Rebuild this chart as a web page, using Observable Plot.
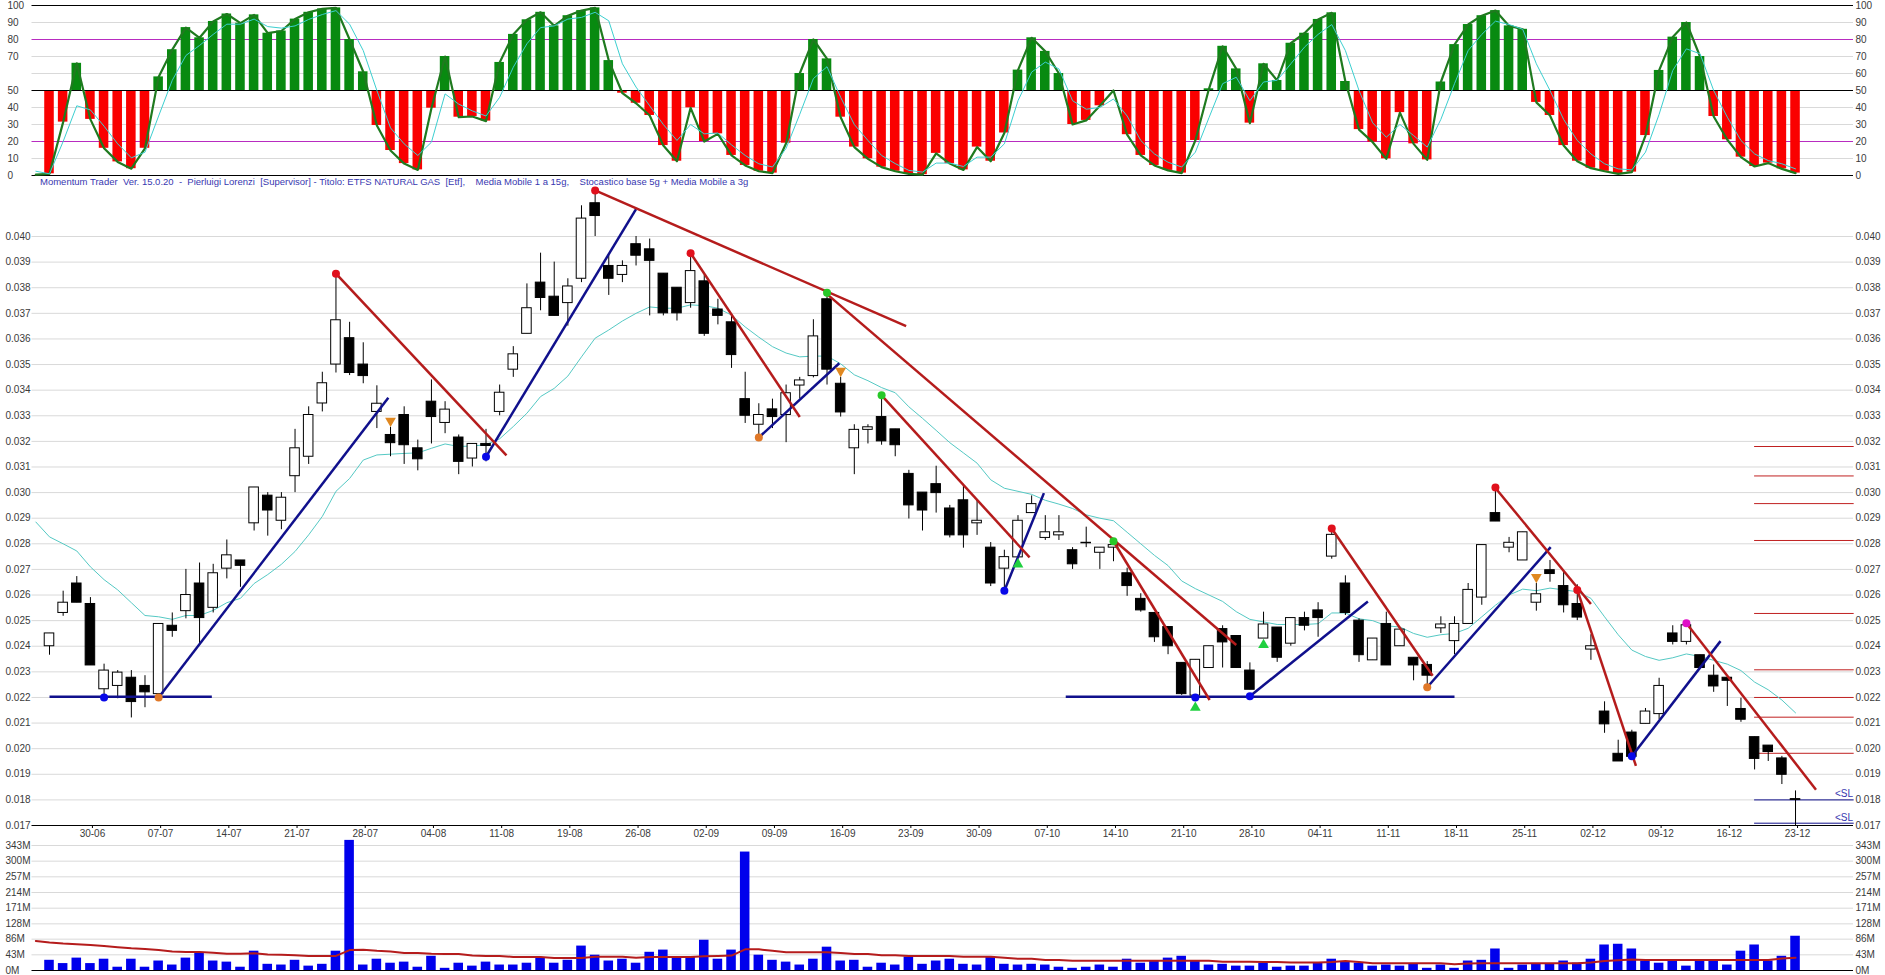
<!DOCTYPE html>
<html>
<head>
<meta charset="utf-8">
<title>ETFS NATURAL GAS</title>
<script src="https://cdn.jsdelivr.net/npm/d3@7"></script>
<script src="https://cdn.jsdelivr.net/npm/@observablehq/plot@0.6"></script>
<style>
html,body{margin:0;padding:0;background:#fff;overflow:hidden}
#chart{position:relative;width:1885px;height:975px;font-family:"Liberation Sans",Arial,sans-serif}
#chart svg{position:absolute;left:0;background:transparent}
#caption{position:absolute;left:40px;top:176px;color:#3838b0;font-size:9.5px;line-height:12px;white-space:pre}
</style>
</head>
<body>
<div id="chart"></div>
<script>
// Dates on the time axis (one label each five sessions, starting at session 3)
const dateLabels = ["30-06","07-07","14-07","21-07","28-07","04-08","11-08","19-08","26-08","02-09","09-09","16-09","23-09","30-09","07-10","14-10","21-10","28-10","04-11","11-11","18-11","25-11","02-12","09-12","16-12","23-12"];

// Stochastic oscillator bars, one per session
const stoch = [
1,31.4,66,33,16,8,4,16,58,74,
87,81,90.6,95,89.6,94.5,83.7,85,92,96,
98,98.6,80,61,29.4,14.7,7,3.3,39.6,70,
34.3,34.7,32,66.5,83,91.6,96,88,94,97,
98.6,67.6,48.4,42.5,35.3,17.6,8.4,39.8,20,24.5,
11.8,5.9,2.5,1.4,19,60,80,68.6,34.3,16.7,
9.8,4.9,2.5,1,0.5,13,7,3.3,16.7,8.4,
25,62,81,73,60,30,32.4,41,50,24,
11.8,5.9,3,1.4,20.6,51,76,62.7,30.8,65.7,
55.9,77.8,83.7,91.8,95.7,55.3,27,19.6,9.8,37,
18.6,9.2,55,77,88.8,94,97,88,86,43,
35.3,17.6,8.4,4.3,2.5,1,2,23.5,61.8,81.4,
90,70,34.7,21,10.8,5.3,7.3,3.9,1.4];
const stochLead = 0.5;
// Signal line of the oscillator, from session -1
const stochSignal = [2.5,
1,20,41,38.6,29,18.6,10.4,13.7,35,56,
70.6,76.5,83,89,89,92,87.6,86.7,88,91.8,
94.7,97,89,73.5,50,28,18.6,11.8,19.6,48,
42,38,35,46,63.7,77.5,87,88,92,93,
96,91,65.7,52,41,30,20.6,30,24.5,25,
18,11.8,6.9,5,16,36,57,64,46,30,
20.6,11.8,7,3,2,7.3,7.3,5.3,10.8,10.8,
18.6,44,60.8,66.7,62.7,44,39,40,45,35,
20.6,12.7,7.8,5,13.7,34,54,57.8,44,55,
56,65.7,75.5,83,88.8,73.5,50,31,22.5,30,
23.5,16.7,33,54,73.5,83,90.8,88.8,86,65.7,
50,33,20.6,12.7,6.9,3.9,3.3,13.7,36,61.8,
74.5,71.6,50,34.3,20.6,12.7,8.8,6.9,3.9];

// Candles, in thousandths
const lows = [
23.65,25.17,25.7,23.25,22.0,21.95,21.2,21.6,22.1,24.35,
25.07,24.1,25.3,26.63,26.3,28.5,28.3,28.55,30.0,31.1,
33.15,34.67,34.57,34.25,32.5,31.4,31.1,30.85,31.9,32.3,
30.7,31.0,31.2,33.0,34.5,36.2,37.1,36.9,36.5,38.2,
40.0,37.7,38.2,38.85,36.9,36.9,36.7,37.2,36.1,36.55,
34.85,32.7,32.15,32.5,31.95,33.65,34.48,34.2,32.95,30.7,
31.9,31.85,31.4,28.97,28.5,29.2,28.23,27.83,28.33,26.33,
26.18,27.47,29.2,28.13,28.13,27.0,27.85,27.0,27.3,25.95,
25.33,24.15,23.67,22.08,21.85,23.15,23.15,23.15,22.3,24.3,
23.37,24.0,24.6,24.35,27.4,25.2,23.37,23.45,23.25,24.0,
22.65,22.4,24.5,23.67,24.87,25.6,28.87,27.65,27.35,25.37,
26.5,25.3,25.0,23.45,20.6,19.5,19.68,20.97,21.13,24.05,
24.05,23.15,22.2,21.65,21.03,19.17,19.5,18.6,17.0];
const bodyLows = [
24.0,25.3,25.7,23.25,22.32,22.45,21.82,22.2,22.13,24.6,
25.37,25.1,25.5,27.03,27.14,28.8,29.3,28.9,30.64,31.4,
33.48,35.0,34.67,34.55,33.15,31.93,31.85,31.3,32.95,32.72,
31.2,31.33,31.82,33.15,34.8,36.2,37.6,36.9,37.4,38.35,
40.8,38.35,38.5,39.25,39.05,37.0,37.0,37.4,36.2,36.9,
35.37,33.0,32.65,32.95,33.03,34.18,34.55,34.8,33.13,31.73,
32.45,32.0,31.85,29.5,29.3,29.98,28.33,28.33,28.8,26.45,
27.03,27.47,29.2,28.23,28.33,27.2,28.02,27.65,27.85,26.35,
25.4,24.35,24.0,22.13,22.07,23.15,24.15,23.15,22.3,24.3,
23.55,24.1,24.8,25.1,27.5,25.3,23.65,23.45,23.25,24.0,
23.25,22.85,24.7,24.2,24.87,25.9,28.87,27.85,27.35,25.7,
26.82,25.6,25.12,23.87,20.95,19.5,19.68,20.97,21.35,24.17,
24.17,23.15,22.43,22.65,21.13,19.6,19.87,18.98,18.0];
const bodyHighs = [
24.5,25.7,26.45,25.65,23.05,22.97,22.77,22.45,24.87,24.8,
26.0,26.45,26.85,27.55,27.35,30.2,29.88,29.8,31.73,33.03,
34.27,36.73,36.03,35.0,33.47,32.25,33.03,31.73,33.55,33.24,
32.15,31.9,31.9,33.9,35.4,37.2,38.2,37.65,38.05,40.7,
41.3,38.85,38.85,39.7,39.5,38.55,38.0,38.65,38.25,37.15,
36.65,33.65,33.03,33.25,33.88,34.38,36.1,37.55,34.25,32.45,
32.55,32.95,32.47,30.73,30.0,30.33,29.38,29.7,28.9,27.85,
27.48,28.9,29.55,28.45,28.45,27.75,28.04,27.85,27.95,26.85,
25.85,25.3,24.75,23.35,23.47,24.0,24.67,24.4,23.05,24.85,
24.73,25.1,25.1,25.4,28.35,26.45,25.0,24.3,24.87,24.65,
23.55,23.27,24.85,24.87,26.2,27.95,29.2,28.04,28.45,26.03,
26.97,26.35,25.65,24.0,21.45,19.8,20.63,21.45,22.45,24.5,
24.82,23.65,22.85,22.77,21.55,20.45,20.12,19.62,18.03];
const highs = [
24.5,26.15,26.72,25.9,23.3,23.05,23.05,22.85,24.87,25.3,
27.0,27.25,27.2,28.15,27.35,30.2,30.0,30.0,32.47,33.35,
34.7,38.55,36.65,35.85,34.17,32.55,33.35,32.05,34.4,33.55,
32.25,31.9,32.47,34.2,35.7,38.15,39.35,39.0,38.35,41.2,
41.8,39.25,39.05,40.0,39.9,38.55,38.0,39.35,38.5,37.55,
36.9,34.7,33.47,33.65,34.2,34.5,36.75,37.8,34.5,32.65,
32.65,33.8,32.47,30.87,30.0,31.03,29.5,30.25,29.7,28.05,
27.75,29.1,29.87,29.1,29.1,27.85,28.65,27.85,28.2,27.05,
26.05,25.3,24.75,23.35,23.47,24.0,24.8,24.4,23.35,25.33,
24.73,25.1,25.33,25.7,28.6,26.75,25.07,24.3,25.33,24.65,
23.55,23.4,25.15,25.15,26.45,27.95,30.2,28.25,28.45,26.45,
27.35,26.9,26.4,24.45,21.83,20.33,20.72,21.57,22.75,24.8,
24.95,23.65,23.27,22.77,21.97,20.45,20.12,19.7,18.35];
const blackCandles = [2,3,6,7,9,11,14,16,22,23,25,26,27,28,30,32,36,37,40,41,43,44,45,46,48,49,50,51,53,57,58,61,62,63,64,65,66,67,69,75,79,80,81,82,83,86,87,88,90,92,93,95,96,98,100,101,106,110,111,112,114,115,116,119,121,122,123,124,125,126,127,128];

// 15-session moving average, from session -1
const movingAvg = [28.85,
28.27,28.0,27.72,27.1,26.6,26.2,25.7,25.2,25.15,25.05,
25.2,25.2,25.4,25.7,25.87,26.45,26.8,27.2,27.7,28.35,
29.07,30.05,30.55,31.27,31.47,31.5,31.53,31.55,31.73,31.9,
31.8,31.82,31.87,32.1,32.58,33.1,33.75,34.07,34.55,35.3,
36.03,36.35,36.7,37.0,37.25,37.2,37.2,37.33,37.3,37.2,
36.93,36.47,36.07,35.7,35.45,35.3,35.33,35.33,35.03,34.6,
34.37,34.1,33.9,33.35,32.9,32.43,31.95,31.55,31.15,30.5,
30.17,30.05,29.93,29.7,29.55,29.38,29.13,29,28.9,28.45,
28,27.55,27.15,26.55,26.25,26,25.75,25.35,25.05,24.95,
24.85,24.85,24.85,24.88,25.3,25.3,25.07,25,24.8,24.75,
24.5,24.35,24.45,24.5,24.7,25.15,25.6,26,26.23,26.17,
26.27,26.2,26.13,25.87,25.15,24.45,23.85,23.6,23.45,23.55,
23.7,23.6,23.45,23.3,23.05,22.6,22.3,21.9,21.4];

// Trend lines: [session, price, session, price]
const redTrends = [[21,38.55,33.5,31.45],[40,41.8,62.8,36.5],[47,39.35,55,32.95],[57,37.75,87,24.05],[61,33.8,71.85,27.47],[78,28.1,85.05,21.9],[94,28.6,101.4,22.85],[106,30.18,113,25.65],[112,26.2,116.3,19.33],[120,24.9,129.5,18.4]];
const blueTrends = [[0,22.03,11.9,22.03],[8,22.0,24.84,33.7],[32,31.4,43,41.07],[52,32.15,57.9,35.05],[70,26.17,72.9,29.98],[74.5,22.03,103,22.03],[88,22.05,96.65,25.75],[101,22.4,110.05,27.87],[116,19.7,122.5,24.2]];

// Pivots: [session, price]
const redPivots = [[21,38.55],[40,41.8],[47,39.35],[94,28.6],[106,30.2],[112,26.2]];
const greenPivots = [[57,37.8],[61,33.8],[78,28.1]];
const bluePivots = [[4,22.0],[32,31.4],[70,26.17],[84,22.0],[88,22.05],[116,19.7]];
const orangePivots = [[8,22.0],[52,32.15],[101,22.4]];
const magentaPivots = [[120,24.9]];
const sellSignals = [[25,32.8],[58,34.75],[109,26.7]];
const buySignals = [[71,27.2],[84,21.6],[89,24.05]];

// Target and stop levels on the right
const targetLevels = [31.8,30.65,29.57,28.13,25.28,23.08,22.0,21.23,19.82];
const stopLevels = [18.0,17.09];
const stopLabels = [[131.55,18.22,"<SL"],[131.55,17.31,"<SL"]];

// Volume in millions, one per session
const volume = [
28,19,34,19,31,9,31,9,26,15,
34,49,26,23,9,53,17,15,28,12,
17,53,357,15,31,20,23,9,39,6,
20,12,23,15,15,20,34,20,28,67,
42,26,31,20,50,56,34,37,83,31,
56,325,42,28,23,15,31,64,26,28,
9,20,15,37,17,26,31,17,15,37,
17,15,17,15,9,6,9,15,9,31,
20,26,34,39,26,15,17,12,12,20,
9,12,12,20,31,23,20,12,15,12,
17,6,15,6,26,28,59,6,15,17,
17,26,20,31,70,72,59,26,20,28,
12,28,28,15,53,70,26,39,94];
// Volume moving average, from session -1
const volumeAvg = [81,
77,74,72,70,67,64,61,59,56,52,
51,51,49,46,46,47,44,43,42,40,
40,40,56,57,54,52,48,48,46,45,
45,41,40,40,37,37,37,34,34,34,
38,38,38,35,37,37,37,37,39,40,
41,58,58,54,50,50,50,50,48,45,
45,42,42,40,40,40,40,38,38,38,
35,32,32,29,29,27,27,27,27,27,
27,27,27,27,27,27,24,24,24,23,
23,22,22,22,23,26,23,20,20,20,
20,20,20,17,19,20,20,20,20,20,
20,20,20,22,26,28,30,29,29,29,
29,29,29,29,29,29,29,33,35];

const stochTicks = d3.range(0,101,10);
const priceTicks = d3.range(17,41).map(d => d/1000);
const volumeTicks = [0,43,86,128,171,214,257,300,343];
const dateTicks = dateLabels.map((_,k) => 3 + 5*k);

const GRID = "#d9d9d9", TEXT = "#3a3a3a", RED = "#b51c1c", NAVY = "#10108c";
const xScale = {domain:[-1.283,132.25], range:[31.5,1853], axis:null};
const half = 0.35;
const base = {width:1885, marginLeft:31.5, marginRight:32, style:{background:"transparent", fontFamily:'"Liberation Sans",Arial,sans-serif', fontSize:"10px"}};
const idx = d3.range(stoch.length);
const chart = document.getElementById("chart");
function place(svg, top){ svg.style.top = top+"px"; chart.appendChild(svg); }

// Oscillator panel
const stochPlot = Plot.plot({...base, height:180, marginTop:5, marginBottom:5,
  x:xScale, y:{domain:[0,100], range:[175,5], axis:null},
  marks:[
    Plot.ruleY(stochTicks.filter(d => ![0,20,50,80,100].includes(d)), {stroke:GRID}),
    Plot.ruleY([20,80], {stroke:"#b82cc0"}),
    Plot.rect(idx.filter(i => stoch[i] >= 50), {x1:i=>i-half, x2:i=>i+half, y1:50, y2:i=>stoch[i], fill:"#088a10"}),
    Plot.rect(idx.filter(i => stoch[i] < 50), {x1:i=>i-half, x2:i=>i+half, y1:50, y2:i=>stoch[i], fill:"#fa0000"}),
    Plot.ruleY([0,50,100], {stroke:"#000", strokeWidth:1}),
    Plot.line([stochLead,...stoch], {x:(d,i)=>i-1, y:d=>d, stroke:"#1f7a1f", strokeWidth:2.2}),
    Plot.line(stochSignal, {x:(d,i)=>i-1, y:d=>d, stroke:"#3ccfd0", strokeWidth:1}),
    Plot.axisY(stochTicks.filter(d => d !== 60), {anchor:"left", tickSize:0, tickPadding:2, textAnchor:"start", dx:-22.5, label:null, fill:TEXT}),
    Plot.axisY(stochTicks, {anchor:"right", tickSize:0, tickPadding:2, label:null, fill:TEXT})
  ]});
place(stochPlot, 0);

// Price panel
const P = 1000;
const whiteIdx = idx.filter(i => !blackCandles.includes(i));
const body = {x1:i=>i-half, x2:i=>i+half, y1:i=>bodyLows[i]/P, y2:i=>bodyHighs[i]/P, stroke:"#000", strokeWidth:1};
const trend = (rows, color) => Plot.link(rows, {x1:d=>d[0], y1:d=>d[1]/P, x2:d=>d[2], y2:d=>d[3]/P, stroke:color, strokeWidth:2.5});
const pivot = (rows, color) => Plot.dot(rows, {x:d=>d[0], y:d=>d[1]/P, r:4, fill:color});
const pricePlot = Plot.plot({...base, height:674, marginTop:8.8, marginBottom:25,
  x:xScale, y:{domain:[0.017,0.042], axis:null},
  marks:[
    Plot.ruleY(priceTicks.slice(1), {stroke:GRID}),
    Plot.ruleY(targetLevels, {y:d=>d/P, x1:125, x2:132.3, stroke:"#c02020"}),
    Plot.ruleY(stopLevels, {y:d=>d/P, x1:125, x2:132.3, stroke:NAVY}),
    Plot.line(movingAvg, {x:(d,i)=>i-1, y:d=>d/P, stroke:"#55c9c4", strokeWidth:1}),
    Plot.ruleX(idx, {x:i=>i, y1:i=>lows[i]/P, y2:i=>highs[i]/P, stroke:"#000", strokeWidth:1}),
    Plot.rect(whiteIdx, {...body, fill:"#fff"}),
    Plot.rect(blackCandles, {...body, fill:"#000"}),
    trend(blueTrends, NAVY),
    trend(redTrends, RED),
    pivot(redPivots, "#e0101c"),
    pivot(greenPivots, "#28c828"),
    pivot(bluePivots, "#0808e8"),
    pivot(orangePivots, "#e07828"),
    pivot(magentaPivots, "#e010c8"),
    Plot.dot(sellSignals, {x:d=>d[0], y:d=>d[1]/P, r:4, symbol:"triangle", rotate:180, fill:"#e08820"}),
    Plot.dot(buySignals, {x:d=>d[0], y:d=>d[1]/P, r:4, symbol:"triangle", fill:"#20d040"}),
    Plot.text(stopLabels, {x:d=>d[0], y:d=>d[1]/P, text:d=>d[2], fill:"#3838b0", fontSize:10}),
    Plot.ruleY([0.017], {stroke:"#000"}),
    Plot.axisX(dateTicks, {anchor:"bottom", tickSize:3, tickPadding:1, dx:2, label:null, stroke:"#000", fill:TEXT, tickFormat:(d,i)=>dateLabels[i]}),
    Plot.axisY(priceTicks, {anchor:"left", tickSize:0, tickPadding:2, textAnchor:"start", dx:-24.5, label:null, fill:TEXT, tickFormat:d=>d.toFixed(3)}),
    Plot.axisY(priceTicks, {anchor:"right", tickSize:0, tickPadding:2, label:null, fill:TEXT, tickFormat:d=>d.toFixed(3)})
  ]});
place(pricePlot, 176);

// Volume panel
const volumePlot = Plot.plot({...base, height:139, marginTop:4, marginBottom:5,
  x:xScale, y:{domain:[0,356.7], axis:null},
  marks:[
    Plot.ruleY(volumeTicks.slice(1), {stroke:GRID}),
    Plot.rect(idx, {x1:i=>i-half, x2:i=>i+half, y1:0, y2:i=>volume[i], fill:"#0000ec"}),
    Plot.line(volumeAvg, {x:(d,i)=>i-1, y:d=>d, stroke:RED, strokeWidth:2}),
    Plot.ruleY([0], {stroke:"#000"}),
    Plot.axisY(volumeTicks, {anchor:"left", tickSize:0, tickPadding:2, textAnchor:"start", dx:-24.5, label:null, fill:TEXT, tickFormat:d=>d+"M"}),
    Plot.axisY(volumeTicks, {anchor:"right", tickSize:0, tickPadding:2, label:null, fill:TEXT, tickFormat:d=>d+"M"})
  ]});
place(volumePlot, 836);

const cap = document.createElement("div");
cap.id = "caption";
cap.textContent = "Momentum Trader  Ver. 15.0.20  -  Pierluigi Lorenzi  [Supervisor] - Titolo: ETFS NATURAL GAS  [Etf],    Media Mobile 1 a 15g,    Stocastico base 5g + Media Mobile a 3g";
chart.appendChild(cap);
</script>
</body>
</html>
